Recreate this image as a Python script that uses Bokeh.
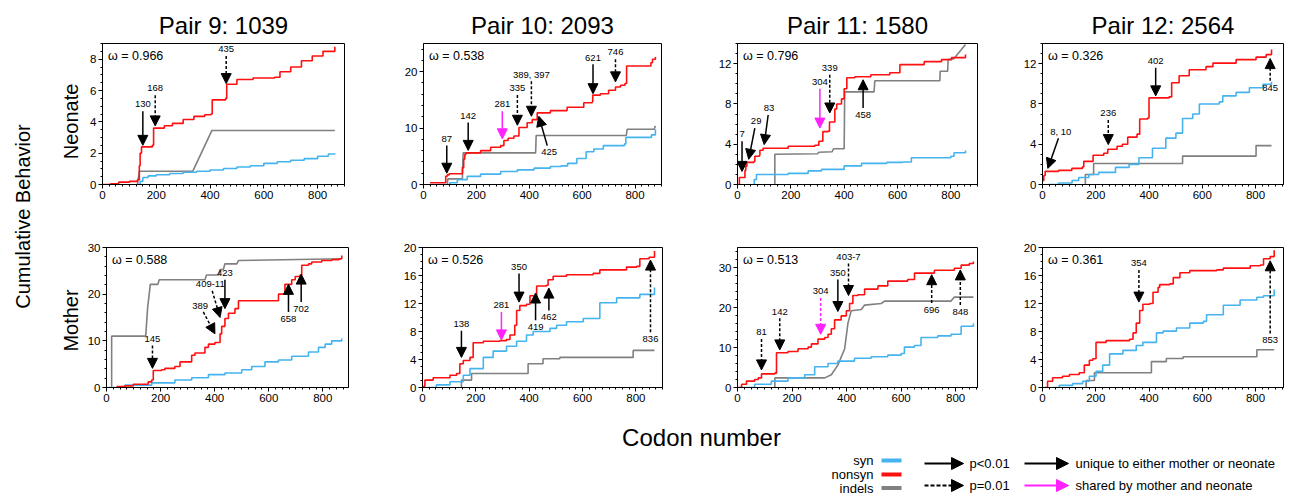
import math
from bokeh.plotting import figure
from bokeh.models import Range1d, SingleIntervalTicker, Arrow, NormalHead
from bokeh.layouts import row, column
from bokeh.core.properties import value
from bokeh.embed import file_html
from bokeh.resources import INLINE

FONT = "Liberation Sans"
SYN_C = "#45b4ee"
NON_C = "#ff1010"
IND_C = "#808080"
MAG_C = "#ff22ff"

TITLES = ["Pair 9: 1039", "Pair 10: 2093", "Pair 11: 1580", "Pair 12: 2564"]
OMEGA_NEONATE = ["0.966", "0.538", "0.796", "0.326"]
OMEGA_MOTHER = ["0.588", "0.526", "0.513", "0.361"]

# ---------------- Pair 9, neonate ----------------
P9N_SYN_X = [130, 140, 150, 170, 200, 250, 300, 350, 400, 450, 500, 550, 600, 650, 700, 750, 800, 840, 864]
P9N_SYN_Y = [0, 0.2, 0.45, 0.55, 0.62, 0.7, 0.78, 0.85, 0.93, 1.02, 1.12, 1.2, 1.35, 1.45, 1.55, 1.65, 1.8, 1.95, 2.0]
P9N_NON_X = [0, 30, 60, 100, 130, 137, 140, 145, 185, 190, 230, 260, 300, 340, 380, 404, 408, 458, 462, 500, 560, 640, 660, 700, 740, 780, 820, 864]
P9N_NON_Y = [0, 0.05, 0.15, 0.2, 0.3, 1.2, 2.0, 2.4, 2.5, 3.6, 3.75, 3.9, 4.15, 4.35, 4.45, 4.5, 5.4, 5.5, 6.4, 6.7, 6.8, 6.85, 7.2, 7.5, 7.9, 8.2, 8.5, 8.8]
P9N_IND_X = [130, 137, 145, 336, 407, 864]
P9N_IND_Y = [0, 0.85, 0.85, 0.85, 3.45, 3.45]
P9N_ARROWS = [("130", 150, 4.67, 150, 2.5, "solid"),
              ("168", 196, 5.7, 196, 3.74, "dashed"),
              ("435", 460, 8.2, 460, 6.44, "dashed")]

# ---------------- Pair 10, neonate ----------------
P10N_SYN_X = [90, 100, 128, 165, 216, 292, 355, 418, 480, 520, 545, 580, 615, 644, 680, 760, 765, 862, 877]
P10N_SYN_Y = [0, 0.3, 0.86, 1.44, 1.84, 2.3, 2.6, 2.9, 3.2, 3.3, 3.75, 4.6, 5.8, 6.3, 6.9, 7.2, 8.35, 8.8, 9.8]
P10N_NON_X = [25, 84, 90, 97, 147, 152, 156, 160, 216, 254, 292, 304, 320, 342, 361, 392, 411, 430, 480, 543, 606, 638, 640, 669, 700, 726, 745, 762, 768, 860, 866, 877]
P10N_NON_Y = [0.3, 1.45, 1.7, 1.9, 3.0, 4.5, 5.3, 5.6, 6.0, 6.6, 6.9, 7.8, 8.2, 8.6, 10.1, 10.95, 11.5, 12.7, 13.1, 13.7, 14.5, 14.7, 15.85, 16.1, 16.7, 17.3, 17.6, 17.9, 21.0, 21.6, 22.2, 22.6]
P10N_IND_X = [90, 92, 147, 150, 424, 426, 767, 770, 872, 877]
P10N_IND_Y = [0, 1.0, 1.0, 5.6, 5.6, 8.7, 8.7, 9.8, 9.8, 10.4]
P10N_ARROWS = [("87", 88, 6.9, 88, 2.0, "solid"),
               ("142", 169, 11.0, 169, 6.05, "solid"),
               ("281", 298, 13.0, 298, 8.1, "shared"),
               ("335", 355, 15.85, 355, 10.5, "dashed"),
               ("389, 397", 408, 18.3, 408, 12.1, "dashed"),
               ("425", 468, 6.9, 436, 12.1, "solid"),
               ("621", 641, 21.3, 641, 16.1, "solid"),
               ("746", 726, 22.2, 726, 18.2, "dashed")]

# ---------------- Pair 11, neonate ----------------
P11N_SYN_X = [59, 63, 71, 190, 265, 315, 400, 465, 560, 620, 652, 800, 812, 855]
P11N_SYN_Y = [0, 0.5, 1.0, 1.1, 1.35, 1.5, 1.85, 2.1, 2.2, 2.24, 2.66, 2.8, 3.15, 3.37]
P11N_NON_X = [0, 7, 28, 31, 35, 62, 65, 82, 84, 96, 190, 290, 305, 320, 340, 345, 365, 372, 390, 400, 410, 440, 500, 571, 609, 700, 765, 803, 855]
P11N_NON_Y = [0, 0.7, 1.4, 1.8, 2.2, 2.3, 2.8, 2.9, 3.4, 3.6, 3.8, 3.9, 4.3, 5.25, 5.3, 6.2, 7.5, 8.0, 8.5, 9.5, 10.6, 10.7, 10.9, 11.1, 11.9, 12.2, 12.4, 12.6, 12.9]
P11N_IND_X = [140, 140, 300, 305, 355, 360, 400, 402, 512, 515, 759, 760, 788, 790, 812, 855]
P11N_IND_Y = [0, 3.0, 3.05, 3.2, 3.25, 3.55, 3.55, 9.2, 9.2, 10.3, 10.3, 11.25, 11.25, 12.4, 12.5, 13.9]
P11N_ARROWS = [("7", 17, 4.3, 17, 1.3, "solid"),
               ("29", 65, 5.6, 42, 2.5, "solid"),
               ("83", 115, 6.9, 100, 3.96, "solid"),
               ("304", 309, 9.5, 309, 5.6, "shared"),
               ("339", 346, 10.9, 346, 7.1, "dashed"),
               ("458", 471, 7.6, 471, 10.4, "solid")]

# ---------------- Pair 12, neonate ----------------
P12N_SYN_X = [23, 60, 111, 136, 174, 211, 274, 325, 362, 413, 463, 501, 526, 564, 589, 664, 677, 727, 777, 828, 860]
P12N_SYN_Y = [0, 0.15, 0.4, 0.7, 1.0, 1.2, 1.7, 2.0, 2.66, 3.6, 4.6, 5.1, 6.55, 7.0, 8.0, 8.2, 8.8, 9.15, 9.6, 9.96, 10.2]
P12N_NON_X = [0, 5, 10, 60, 110, 150, 155, 190, 230, 245, 280, 300, 320, 355, 365, 395, 400, 475, 485, 513, 551, 614, 640, 727, 802, 840, 860]
P12N_NON_Y = [0.4, 0.9, 1.3, 1.4, 1.6, 1.75, 2.3, 2.9, 3.1, 3.5, 3.8, 4.0, 4.7, 5.0, 6.5, 6.6, 8.6, 8.7, 10.1, 10.8, 11.4, 11.7, 12.05, 12.4, 12.65, 12.9, 13.4]
P12N_IND_X = [161, 161, 192, 192, 526, 526, 802, 802, 860]
P12N_IND_Y = [0, 1.0, 1.0, 2.08, 2.08, 2.82, 2.82, 3.86, 3.86]
P12N_ARROWS = [("8, 10", 60, 4.6, 20, 1.6, "solid"),
               ("236", 247, 6.4, 247, 3.96, "dashed"),
               ("402", 425, 11.6, 425, 8.8, "solid"),
               ("845", 855, 10.3, 855, 12.5, "dashed")]

# ---------------- Pair 9, mother ----------------
P9M_SYN_X = [4, 68, 167, 253, 315, 377, 438, 500, 537, 586, 636, 685, 747, 784, 809, 833, 870]
P9M_SYN_Y = [0, 0.5, 1.0, 1.6, 2.1, 2.75, 3.1, 3.8, 4.5, 5.5, 5.9, 6.7, 7.6, 8.6, 9.3, 10.0, 10.5]
P9M_NON_X = [37, 68, 99, 154, 167, 173, 204, 216, 253, 272, 315, 327, 364, 377, 401, 420, 426, 438, 451, 475, 488, 623, 636, 660, 685, 698, 716, 722, 747, 759, 796, 833, 860, 870]
P9M_NON_Y = [0.2, 0.35, 0.7, 1.2, 1.6, 3.65, 3.8, 4.1, 4.5, 5.5, 6.9, 7.4, 8.6, 9.3, 9.65, 11.5, 13.1, 14.8, 15.9, 16.9, 18.6, 18.6, 20.0, 22.1, 23.1, 23.8, 24.1, 26.2, 26.5, 26.9, 27.2, 27.4, 27.6, 28.3]
P9M_IND_X = [19, 19, 145, 152, 162, 190, 195, 364, 370, 415, 420, 432, 438, 482, 488, 870]
P9M_IND_Y = [0, 11.0, 11.0, 17.0, 22.1, 22.1, 23.1, 23.1, 24.1, 24.1, 25.3, 25.3, 26.5, 26.5, 27.2, 27.6]
P9M_ARROWS = [("145", 170, 9.0, 170, 4.1, "dashed"),
              ("389", 358, 16.2, 401, 11.5, "dashed"),
              ("409-11", 391, 20.7, 420, 15.0, "dashed"),
              ("423", 438, 23.1, 438, 16.9, "solid"),
              ("658", 673, 16.2, 673, 22.1, "solid"),
              ("702", 720, 18.3, 720, 24.3, "solid")]

# ---------------- Pair 10, mother ----------------
P10M_SYN_X = [21, 52, 103, 153, 178, 228, 265, 315, 353, 390, 415, 478, 503, 540, 603, 665, 728, 815, 870]
P10M_SYN_Y = [0, 0.37, 0.83, 1.75, 2.7, 4.3, 5.2, 5.9, 6.6, 7.5, 8.0, 8.45, 8.9, 9.4, 9.85, 12.1, 12.8, 13.3, 14.3]
P10M_NON_X = [0, 9, 40, 103, 128, 140, 153, 178, 190, 228, 290, 315, 328, 346, 353, 365, 390, 403, 428, 465, 471, 490, 540, 640, 665, 765, 803, 815, 850, 870]
P10M_NON_Y = [0.15, 1.06, 1.4, 1.75, 2.0, 3.4, 3.85, 4.3, 6.4, 6.6, 6.7, 6.85, 7.5, 8.9, 11.0, 11.7, 11.9, 13.1, 14.5, 14.6, 15.4, 15.9, 16.1, 16.3, 16.8, 17.2, 17.3, 18.4, 18.6, 19.5]
P10M_IND_X = [146, 146, 184, 184, 396, 396, 452, 452, 515, 515, 790, 790, 870]
P10M_IND_Y = [0, 1.06, 1.06, 2.0, 2.0, 3.4, 3.4, 4.1, 4.1, 4.3, 4.3, 5.3, 5.3]
P10M_ARROWS = [("138", 146, 8.1, 146, 4.3, "solid"),
               ("281", 296, 10.8, 296, 6.8, "shared"),
               ("350", 362, 16.3, 362, 12.2, "solid"),
               ("419", 424, 9.6, 424, 13.5, "solid"),
               ("462", 474, 11.0, 474, 14.2, "solid"),
               ("836", 855, 7.9, 855, 18.2, "dashed")]

# ---------------- Pair 11, mother ----------------
P11M_SYN_X = [8, 63, 124, 185, 246, 283, 332, 368, 429, 490, 551, 600, 612, 649, 673, 734, 783, 820, 865]
P11M_SYN_Y = [0, 0.8, 1.6, 2.4, 3.2, 5.2, 6.0, 6.6, 7.3, 7.7, 8.1, 8.5, 10.1, 10.5, 12.5, 12.9, 13.3, 15.3, 16.0]
P11M_NON_X = [2, 15, 33, 63, 76, 88, 137, 143, 185, 222, 259, 271, 295, 320, 332, 344, 356, 380, 399, 411, 423, 441, 466, 515, 551, 624, 649, 722, 795, 820, 850, 865]
P11M_NON_Y = [0, 0.8, 1.6, 2.0, 2.4, 3.4, 3.6, 8.7, 9.0, 9.7, 10.1, 10.9, 12.1, 12.5, 13.3, 14.7, 16.9, 17.9, 19.2, 21.0, 23.0, 23.2, 24.6, 25.4, 26.6, 27.0, 28.6, 29.3, 29.8, 30.6, 31.0, 31.5]
P11M_IND_X = [137, 137, 320, 344, 368, 393, 405, 417, 454, 466, 527, 539, 783, 795, 865]
P11M_IND_Y = [0, 2.4, 2.4, 3.2, 5.6, 9.7, 16.1, 19.2, 19.5, 20.6, 21.0, 21.6, 21.6, 22.6, 22.6]
P11M_ARROWS = [("81", 88, 12.1, 88, 4.4, "dashed"),
               ("142", 155, 17.3, 155, 9.4, "dashed"),
               ("304", 305, 22.4, 305, 13.3, "shared_dashed"),
               ("350", 368, 27.0, 368, 19.0, "solid"),
               ("403-7", 407, 31.0, 407, 23.0, "dashed"),
               ("696", 712, 21.1, 712, 28.2, "dashed"),
               ("848", 817, 20.6, 817, 29.4, "dashed")]

# ---------------- Pair 12, mother ----------------
P12M_SYN_X = [38, 63, 113, 151, 176, 201, 226, 252, 302, 352, 377, 428, 453, 503, 553, 604, 616, 679, 742, 805, 830, 870]
P12M_SYN_Y = [0, 0.3, 0.55, 0.9, 1.6, 2.3, 3.2, 4.8, 5.3, 6.0, 6.45, 7.8, 8.05, 8.5, 9.2, 9.45, 10.4, 11.75, 12.5, 12.9, 13.1, 14.0]
P12M_NON_X = [8, 19, 38, 75, 101, 138, 157, 176, 189, 201, 239, 302, 327, 340, 352, 365, 377, 403, 415, 434, 440, 478, 491, 516, 553, 654, 679, 780, 818, 830, 855, 870]
P12M_NON_Y = [0, 0.9, 1.4, 1.6, 1.85, 2.1, 3.2, 3.9, 4.1, 6.45, 6.7, 6.7, 6.9, 7.8, 9.2, 11.0, 11.9, 12.0, 13.6, 14.3, 14.7, 14.8, 15.7, 16.4, 16.7, 16.8, 17.05, 17.4, 17.5, 18.4, 18.7, 19.6]
P12M_IND_X = [164, 164, 195, 195, 409, 409, 465, 465, 528, 528, 805, 805, 870]
P12M_IND_Y = [0, 1.0, 1.0, 2.1, 2.1, 3.7, 3.7, 4.15, 4.15, 4.4, 4.4, 5.4, 5.4]
P12M_ARROWS = [("354", 362, 16.8, 362, 12.2, "dashed"),
               ("853", 855, 7.7, 855, 18.1, "dashed")]

LEGEND_SERIES = ["syn", "nonsyn", "indels"]
LEGEND_ARROWS = ["p<0.01", "p=0.01"]
LEGEND_SHARING = ["unique to either mother or neonate", "shared by mother and neonate"]


def make_panel(title, omega, xend, ymax, yint, yminor, sx_, sy_, nx_, ny_, ix_, iy_, arrows,
               W, H, L, R, T, B):
    kw = dict(width=W, height=H, x_range=Range1d(0, xend), y_range=Range1d(0, ymax),
              output_backend="svg", toolbar_location=None,
              min_border_left=L, min_border_right=R, min_border_top=T, min_border_bottom=B)
    if title:
        kw["title"] = title
    p = figure(**kw)
    if title:
        p.title.text_font = FONT
        p.title.text_font_size = "24px"
        p.title.text_font_style = "normal"
        p.title.align = "center"
        p.title.text_color = "black"
    p.grid.visible = False
    p.outline_line_color = "black"
    p.outline_line_alpha = 1.0
    p.background_fill_color = "white"
    p.border_fill_color = "white"
    p.xaxis.ticker = SingleIntervalTicker(interval=200, num_minor_ticks=8)
    p.yaxis.ticker = SingleIntervalTicker(interval=yint, num_minor_ticks=yminor)
    p.axis.axis_line_color = "black"
    p.axis.major_tick_line_color = "black"
    p.axis.minor_tick_line_color = "black"
    p.axis.major_tick_in = 0
    p.axis.major_tick_out = 4
    p.axis.minor_tick_in = 0
    p.axis.minor_tick_out = 2
    p.axis.major_label_text_font = FONT
    p.axis.major_label_text_font_size = "11.5px"
    p.axis.major_label_text_color = "black"
    p.axis.major_label_standoff = 2

    fw = W - L - R
    fh = H - T - B
    kx = fw / xend
    ky = fh / ymax

    p.line(ix_, iy_, line_color=IND_C, line_width=1.6)
    p.step(sx_, sy_, mode="after", line_color=SYN_C, line_width=1.6)
    p.step(nx_, ny_, mode="after", line_color=NON_C, line_width=1.6)

    lx, ly, lt = [], [], []
    for lab, xt, yt, xh, yh, kind in arrows:
        col = MAG_C if kind.startswith("shared") else "black"
        dash = "3 2" if "dashed" in kind else "solid"
        p.add_layout(Arrow(end=NormalHead(size=10, fill_color=col, line_color=col),
                           x_start=xt, y_start=yt, x_end=xh, y_end=yh,
                           line_color=col, line_width=1.5, line_dash=dash))
        dxp = (xt - xh) * kx
        dyp = (yt - yh) * ky
        n = math.hypot(dxp, dyp) or 1.0
        lx.append(xt + dxp / n * 7 / kx)
        ly.append(yt + dyp / n * 7 / ky)
        lt.append(lab)
    p.text(x=lx, y=ly, text=lt, text_font=value(FONT), text_font_size="9.5px",
           text_align="center", text_baseline="middle", text_color="black")
    p.text(x=[5.5 / kx], y=[ymax - 12.5 / ky], text=["\u03c9 = " + omega],
           text_font=value(FONT), text_font_size="12.5px",
           text_align="left", text_baseline="middle", text_color="black")
    return p


f1 = make_panel(TITLES[0], OMEGA_NEONATE[0], 900, 9, 2, 4, P9N_SYN_X, P9N_SYN_Y, P9N_NON_X, P9N_NON_Y,
                P9N_IND_X, P9N_IND_Y, P9N_ARROWS, 280, 225, 22, 16, 43, 38)
f2 = make_panel(TITLES[1], OMEGA_NEONATE[1], 900, 25, 10, 5, P10N_SYN_X, P10N_SYN_Y, P10N_NON_X, P10N_NON_Y,
                P10N_IND_X, P10N_IND_Y, P10N_ARROWS, 315, 225, 63, 14, 41, 40)
f3 = make_panel(TITLES[2], OMEGA_NEONATE[2], 900, 14, 4, 4, P11N_SYN_X, P11N_SYN_Y, P11N_NON_X, P11N_NON_Y,
                P11N_IND_X, P11N_IND_Y, P11N_ARROWS, 315, 225, 62, 13, 39, 41)
f4 = make_panel(TITLES[3], OMEGA_NEONATE[3], 905, 14, 4, 4, P12N_SYN_X, P12N_SYN_Y, P12N_NON_X, P12N_NON_Y,
                P12N_IND_X, P12N_IND_Y, P12N_ARROWS, 304, 225, 52, 11, 39, 41)
f5 = make_panel(None, OMEGA_MOTHER[0], 895, 30, 10, 5, P9M_SYN_X, P9M_SYN_Y, P9M_NON_X, P9M_NON_Y,
                P9M_IND_X, P9M_IND_Y, P9M_ARROWS, 280, 190, 26, 12, 18, 28)
f6 = make_panel(None, OMEGA_MOTHER[1], 900, 20, 4, 4, P10M_SYN_X, P10M_SYN_Y, P10M_NON_X, P10M_NON_Y,
                P10M_IND_X, P10M_IND_Y, P10M_ARROWS, 315, 190, 62, 13, 20, 26)
f7 = make_panel(None, OMEGA_MOTHER[2], 880, 35, 10, 5, P11M_SYN_X, P11M_SYN_Y, P11M_NON_X, P11M_NON_Y,
                P11M_IND_X, P11M_IND_Y, P11M_ARROWS, 315, 190, 62, 13, 22, 23)
f8 = make_panel(None, OMEGA_MOTHER[3], 905, 20, 4, 4, P12M_SYN_X, P12M_SYN_Y, P12M_NON_X, P12M_NON_Y,
                P12M_IND_X, P12M_IND_Y, P12M_ARROWS, 304, 190, 52, 11, 19, 27)


def blank(W, H, x0, x1, y0, y1):
    q = figure(width=W, height=H, x_range=Range1d(x0, x1), y_range=Range1d(y0, y1),
               output_backend="svg", toolbar_location=None,
               x_axis_location=None, y_axis_location=None,
               min_border_left=0, min_border_right=0, min_border_top=0, min_border_bottom=0)
    q.grid.visible = False
    q.outline_line_color = None
    q.background_fill_color = "white"
    q.border_fill_color = "white"
    return q


# left side labels (page pixel coordinates, y downwards)
lf = blank(80, 415, 0, 80, 415, 0)
lf.text(x=[22], y=[216], text=["Cumulative Behavior"], angle=math.pi / 2,
        text_font=value(FONT), text_font_size="20px", text_align="center",
        text_baseline="middle", text_color="black")
lf.text(x=[70, 70], y=[121, 320], text=["Neonate", "Mother"], angle=math.pi / 2,
        text_font=value(FONT), text_font_size="20px", text_align="center",
        text_baseline="middle", text_color="black")

# bottom: axis title and legend
lg = blank(1294, 81, 0, 1294, 496, 415)
lg.text(x=[701], y=[437], text=["Codon number"], text_font=value(FONT), text_font_size="24px",
        text_align="center", text_baseline="middle", text_color="black")
lg.text(x=[873, 873, 873], y=[460, 474, 487.5], text=LEGEND_SERIES, text_font=value(FONT),
        text_font_size="13px", text_align="right", text_baseline="middle", text_color="black")
lg.segment(x0=[881, 881, 881], y0=[460, 474, 487.5], x1=[901, 901, 901], y1=[460, 474, 487.5],
           line_color=[SYN_C, NON_C, IND_C], line_width=4)
lg.add_layout(Arrow(end=NormalHead(size=12, fill_color="black", line_color="black"),
                    x_start=924, y_start=463, x_end=963, y_end=463, line_width=2, line_color="black"))
lg.add_layout(Arrow(end=NormalHead(size=12, fill_color="black", line_color="black"),
                    x_start=924, y_start=485, x_end=963, y_end=485, line_width=2, line_color="black",
                    line_dash="4 2"))
lg.add_layout(Arrow(end=NormalHead(size=12, fill_color="black", line_color="black"),
                    x_start=1024, y_start=463, x_end=1068, y_end=463, line_width=2, line_color="black"))
lg.add_layout(Arrow(end=NormalHead(size=12, fill_color=MAG_C, line_color=MAG_C),
                    x_start=1024, y_start=485, x_end=1068, y_end=485, line_width=2, line_color=MAG_C))
lg.text(x=[969, 969], y=[463, 485], text=LEGEND_ARROWS, text_font=value(FONT), text_font_size="13px",
        text_align="left", text_baseline="middle", text_color="black")
lg.text(x=[1075, 1075], y=[463, 485], text=LEGEND_SHARING, text_font=value(FONT), text_font_size="13px",
        text_align="left", text_baseline="middle", text_color="black")

grid = column(row(f1, f2, f3, f4), row(f5, f6, f7, f8))
page = column(row(lf, grid), lg)

open("out.html", "w").write(file_html(page, INLINE, title="Cumulative behavior"))
